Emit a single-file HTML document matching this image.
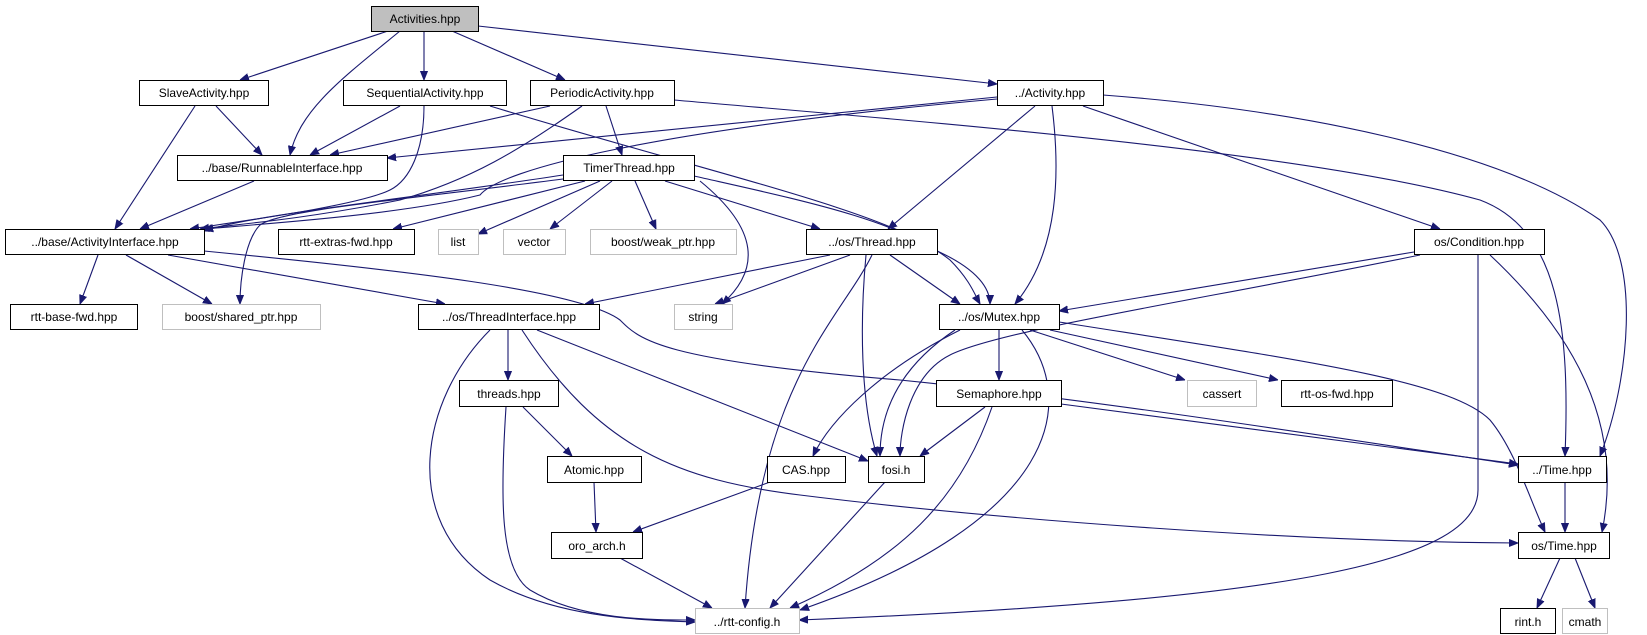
<!DOCTYPE html>
<html><head><meta charset="utf-8"><style>
body{margin:0;background:#fff;}
svg{display:block;}
text{font-family:"Liberation Sans",sans-serif;font-size:12px;text-anchor:middle;}
.n{fill:#fff;stroke:#000;stroke-width:1;}
.g{fill:#fff;stroke:#bfbfbf;stroke-width:1;}
.e{fill:none;stroke:#191970;stroke-width:1.1;}
</style></head><body>
<svg width="1647" height="635" viewBox="0 0 1647 635" xmlns="http://www.w3.org/2000/svg">
<defs><marker id="a" viewBox="0 0 10 10" refX="10" refY="5" markerWidth="9" markerHeight="9" markerUnits="userSpaceOnUse" orient="auto"><path d="M0,1 L10,5 L0,9 z" fill="#191970" stroke="#191970"/></marker></defs>
<g class="e" marker-end="url(#a)">
<path d="M388,31 L240,80"/>
<path d="M400,31 C340,80 300,110 290,155"/>
<path d="M424,31 L424,80"/>
<path d="M452,31 L565,80"/>
<path d="M478,26 L997,84"/>
<path d="M216,106 L262,155"/>
<path d="M195,106 L115,229"/>
<path d="M400,106 L310,155"/>
<path d="M424,106 C424,150 410,180 390,190 C360,205 250,220 190,229"/>
<path d="M490,106 C700,170 880,210 935,250 C980,270 990,290 990,304"/>
<path d="M550,106 L330,155"/>
<path d="M582,106 C520,150 470,180 400,200 C300,220 230,225 200,229"/>
<path d="M606,106 L622,155"/>
<path d="M674,100 C900,120 1300,150 1480,200 C1560,230 1570,330 1565,456"/>
<path d="M997,97 L387,158"/>
<path d="M997,99 C650,130 500,170 480,195 C400,215 260,224 204,229"/>
<path d="M1035,106 L888,229"/>
<path d="M1052,106 C1060,170 1060,250 1015,304"/>
<path d="M1083,106 L1440,229"/>
<path d="M1103,95 C1300,110 1500,150 1600,220 C1640,260 1630,380 1600,456"/>
<path d="M254,181 L140,229"/>
<path d="M563,175 C400,200 250,215 204,231"/>
<path d="M585,181 L393,229"/>
<path d="M600,181 L478,234"/>
<path d="M612,181 L550,229"/>
<path d="M635,181 L656,229"/>
<path d="M563,179 C400,200 280,210 260,225 C245,240 240,280 240,304"/>
<path d="M665,181 L820,229"/>
<path d="M694,176 C800,200 900,220 950,260 C970,280 975,295 980,304"/>
<path d="M700,181 C760,230 760,270 722,304"/>
<path d="M98,255 L80,304"/>
<path d="M126,255 L212,304"/>
<path d="M168,255 L445,304"/>
<path d="M204,251 C400,270 580,290 620,320 C640,340 660,360 900,380 C1100,400 1350,440 1518,465"/>
<path d="M830,255 L585,304"/>
<path d="M850,255 L715,304"/>
<path d="M890,255 L960,304"/>
<path d="M866,255 C860,320 860,400 877,456"/>
<path d="M872,255 C840,320 760,380 745,608"/>
<path d="M1414,252 L1059,311"/>
<path d="M1420,255 C1200,300 1000,330 950,355 C910,375 900,430 900,456"/>
<path d="M1478,255 L1478,490 C1478,560 1300,600 799,620"/>
<path d="M1490,255 C1570,330 1625,420 1602,532"/>
<path d="M508,330 L508,380"/>
<path d="M537,330 L868,461"/>
<path d="M490,330 C420,400 400,520 490,580 C560,620 650,620 695,622"/>
<path d="M522,330 C600,450 680,480 800,495 C1000,520 1300,542 1518,543"/>
<path d="M960,330 C880,370 830,420 813,456"/>
<path d="M955,330 C910,360 880,400 880,456"/>
<path d="M999,330 L999,380"/>
<path d="M1030,330 L1185,380"/>
<path d="M1050,330 L1278,380"/>
<path d="M1022,330 C1080,400 1060,520 800,610"/>
<path d="M1059,322 C1300,360 1450,380 1490,420 C1515,450 1530,500 1545,532"/>
<path d="M523,407 L572,456"/>
<path d="M506,407 C500,500 500,570 530,590 C580,620 650,620 695,620"/>
<path d="M594,482 L596,532"/>
<path d="M770,482 L633,532"/>
<path d="M620,558 L712,608"/>
<path d="M885,482 L770,608"/>
<path d="M985,407 L920,456"/>
<path d="M992,407 C960,500 900,560 790,608"/>
<path d="M1061,404 L1518,464"/>
<path d="M1565,482 L1565,532"/>
<path d="M1560,558 L1537,608"/>
<path d="M1575,558 L1595,608"/>
</g>
<rect x="371.5" y="6.5" width="107" height="25" fill="#bfbfbf" stroke="#000"/><text x="425" y="23">Activities.hpp</text>
<rect class="n" x="139.5" y="80.5" width="129" height="25"/><text x="204" y="97">SlaveActivity.hpp</text>
<rect class="n" x="343.5" y="80.5" width="163" height="25"/><text x="425" y="97">SequentialActivity.hpp</text>
<rect class="n" x="530.5" y="80.5" width="144" height="25"/><text x="602" y="97">PeriodicActivity.hpp</text>
<rect class="n" x="997.5" y="80.5" width="106" height="25"/><text x="1050" y="97">../Activity.hpp</text>
<rect class="n" x="177.5" y="155.5" width="210" height="25"/><text x="282" y="172">../base/RunnableInterface.hpp</text>
<rect class="n" x="563.5" y="155.5" width="131" height="25"/><text x="629" y="172">TimerThread.hpp</text>
<rect class="n" x="5.5" y="229.5" width="199" height="25"/><text x="105" y="246">../base/ActivityInterface.hpp</text>
<rect class="n" x="278.5" y="229.5" width="136" height="25"/><text x="346" y="246">rtt-extras-fwd.hpp</text>
<rect class="g" x="438.5" y="229.5" width="40" height="25"/><text x="458" y="246">list</text>
<rect class="g" x="503.5" y="229.5" width="62" height="25"/><text x="534" y="246">vector</text>
<rect class="g" x="590.5" y="229.5" width="146" height="25"/><text x="663" y="246">boost/weak_ptr.hpp</text>
<rect class="n" x="806.5" y="229.5" width="131" height="25"/><text x="872" y="246">../os/Thread.hpp</text>
<rect class="n" x="1414.5" y="229.5" width="130" height="25"/><text x="1479" y="246">os/Condition.hpp</text>
<rect class="n" x="10.5" y="304.5" width="127" height="25"/><text x="74" y="321">rtt-base-fwd.hpp</text>
<rect class="g" x="162.5" y="304.5" width="158" height="25"/><text x="241" y="321">boost/shared_ptr.hpp</text>
<rect class="n" x="418.5" y="304.5" width="181" height="25"/><text x="509" y="321">../os/ThreadInterface.hpp</text>
<rect class="g" x="674.5" y="304.5" width="58" height="25"/><text x="703" y="321">string</text>
<rect class="n" x="939.5" y="304.5" width="120" height="25"/><text x="999" y="321">../os/Mutex.hpp</text>
<rect class="n" x="459.5" y="380.5" width="99" height="26"/><text x="509" y="398">threads.hpp</text>
<rect class="n" x="936.5" y="380.5" width="125" height="26"/><text x="999" y="398">Semaphore.hpp</text>
<rect class="g" x="1187.5" y="380.5" width="69" height="26"/><text x="1222" y="398">cassert</text>
<rect class="n" x="1281.5" y="380.5" width="111" height="26"/><text x="1337" y="398">rtt-os-fwd.hpp</text>
<rect class="n" x="547.5" y="456.5" width="94" height="26"/><text x="594" y="474">Atomic.hpp</text>
<rect class="n" x="767.5" y="456.5" width="78" height="26"/><text x="806" y="474">CAS.hpp</text>
<rect class="n" x="868.5" y="456.5" width="56" height="26"/><text x="896" y="474">fosi.h</text>
<rect class="n" x="1518.5" y="456.5" width="88" height="26"/><text x="1562" y="474">../Time.hpp</text>
<rect class="n" x="551.5" y="532.5" width="91" height="26"/><text x="597" y="550">oro_arch.h</text>
<rect class="n" x="1518.5" y="532.5" width="91" height="26"/><text x="1564" y="550">os/Time.hpp</text>
<rect class="g" x="695.5" y="608.5" width="104" height="25"/><text x="747" y="626">../rtt-config.h</text>
<rect class="n" x="1500.5" y="608.5" width="55" height="25"/><text x="1528" y="626">rint.h</text>
<rect class="g" x="1562.5" y="608.5" width="45" height="25"/><text x="1585" y="626">cmath</text>
</svg>
</body></html>
